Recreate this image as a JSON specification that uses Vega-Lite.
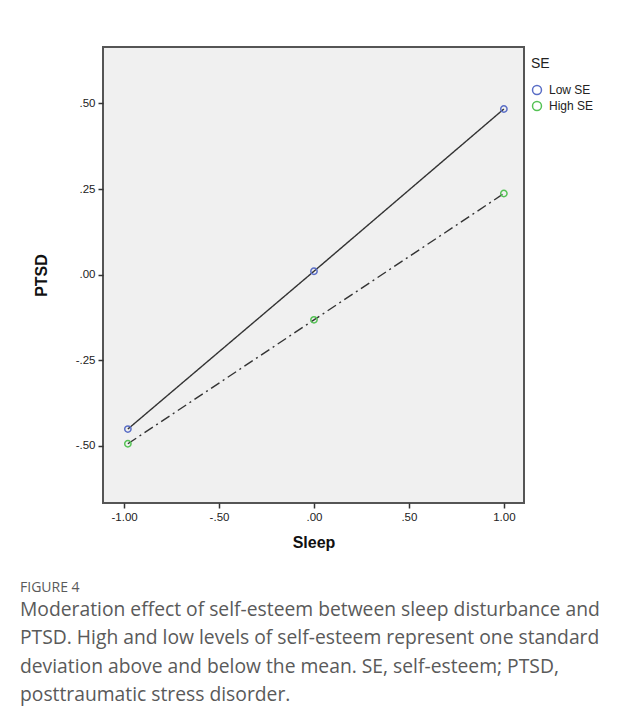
{
  "$schema": "https://vega.github.io/schema/vega-lite/v6.json",
  "autosize": {"type": "none"},
  "padding": {"left": 103, "top": 47, "right": 98, "bottom": 206},
  "width": 421,
  "height": 456,
  "background": "white",
  "title": {
    "text": "FIGURE 4",
    "subtitle": [
      "Moderation effect of self-esteem between sleep disturbance and",
      "PTSD. High and low levels of self-esteem represent one standard",
      "deviation above and below the mean. SE, self-esteem; PTSD,",
      "posttraumatic stress disorder."
    ],
    "orient": "bottom",
    "anchor": "start",
    "frame": "group",
    "dx": -83,
    "offset": 30,
    "font": "Open Sans",
    "fontSize": 14,
    "fontWeight": "normal",
    "color": "#5a5a5a",
    "subtitleFont": "Open Sans",
    "subtitleFontSize": 19.3,
    "subtitleColor": "#5a5a5a",
    "subtitleLineHeight": 28.5,
    "subtitlePadding": 6
  },
  "data": {
    "values": [
      {"Sleep": -0.98, "PTSD": -0.451, "SE": "Low SE", "Style": "solid"},
      {"Sleep": 0.0, "PTSD": 0.010, "SE": "Low SE", "Style": "solid"},
      {"Sleep": 1.0, "PTSD": 0.484, "SE": "Low SE", "Style": "solid"},
      {"Sleep": -0.98, "PTSD": -0.494, "SE": "High SE", "Style": "dashdot"},
      {"Sleep": 0.0, "PTSD": -0.132, "SE": "High SE", "Style": "dashdot"},
      {"Sleep": 1.0, "PTSD": 0.237, "SE": "High SE", "Style": "dashdot"}
    ]
  },
  "encoding": {
    "x": {
      "field": "Sleep",
      "type": "quantitative",
      "scale": {"domain": [-1.111, 1.106], "nice": false, "zero": false},
      "axis": {
        "title": "Sleep",
        "values": [-1, -0.5, 0, 0.5, 1],
        "labelExpr": "replace(replace(format(datum.value, '.2f'), '0.', '.'), '\u2212', '-')",
        "titlePadding": 12
      }
    },
    "y": {
      "field": "PTSD",
      "type": "quantitative",
      "scale": {"domain": [-0.667, 0.665], "nice": false, "zero": false},
      "axis": {
        "title": "PTSD",
        "values": [-0.5, -0.25, 0, 0.25, 0.5],
        "labelExpr": "replace(replace(format(datum.value, '.2f'), '0.', '.'), '\u2212', '-')",
        "titlePadding": 26
      }
    }
  },
  "layer": [
    {
      "mark": {"type": "line", "color": "#333333", "strokeWidth": 1.4},
      "encoding": {
        "detail": {"field": "Style"},
        "strokeDash": {
          "field": "Style",
          "type": "nominal",
          "scale": {"domain": ["solid", "dashdot"], "range": [[1, 0], [10, 4, 2, 4]]},
          "legend": null
        }
      }
    },
    {
      "mark": {"type": "point", "shape": "circle", "filled": false, "size": 40, "strokeWidth": 1.5, "opacity": 1},
      "encoding": {
        "color": {
          "field": "SE",
          "type": "nominal",
          "scale": {"domain": ["Low SE", "High SE"], "range": ["#5a6ec6", "#55c255"]},
          "legend": {
            "title": "SE",
            "orient": "none",
            "legendX": 428,
            "legendY": 10,
            "titleFont": "Liberation Sans",
            "titleFontSize": 14,
            "titleFontWeight": "normal",
            "titleColor": "#222222",
            "titlePadding": 13,
            "labelFont": "Liberation Sans",
            "labelFontSize": 12,
            "labelColor": "#222222",
            "symbolType": "circle",
            "symbolSize": 80,
            "symbolStrokeWidth": 1.5,
            "symbolFillColor": "transparent",
            "rowPadding": 0,
            "labelOffset": 6
          }
        }
      }
    }
  ],
  "config": {
    "view": {"fill": "#f0f0f0", "stroke": "#555555", "strokeWidth": 2},
    "axis": {
      "grid": false,
      "domain": false,
      "tickColor": "#333333",
      "tickSize": 5,
      "tickWidth": 1.5,
      "labelFont": "Liberation Sans",
      "labelFontSize": 11.5,
      "labelColor": "#222222",
      "labelPadding": 3,
      "titleFont": "Liberation Sans",
      "titleFontSize": 16,
      "titleFontWeight": "bold",
      "titleColor": "#111111"
    }
  }
}
